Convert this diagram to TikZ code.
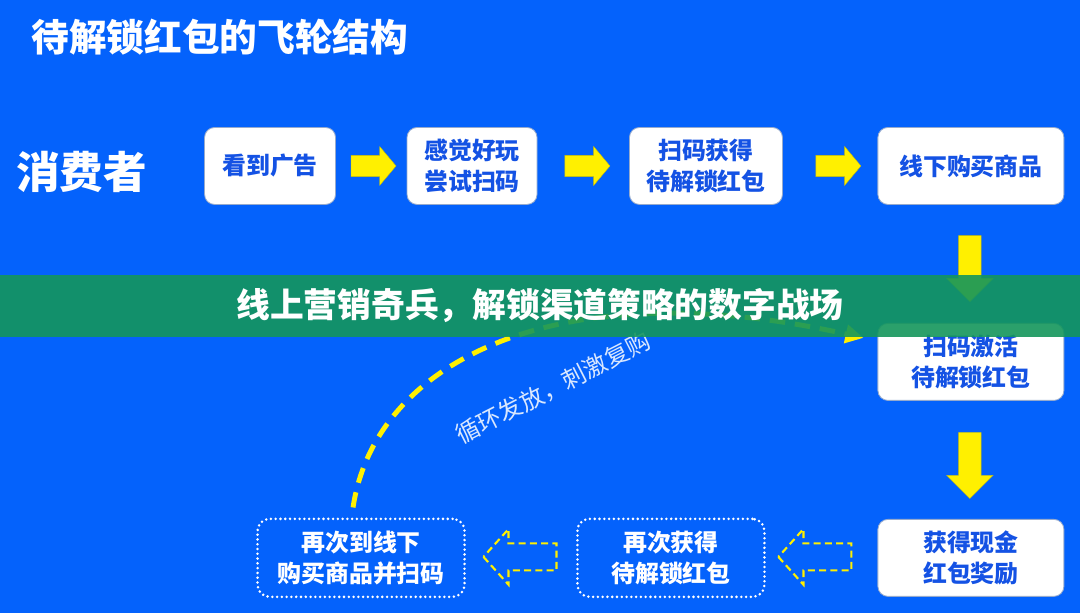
\documentclass[tikz,border=0pt]{standalone}
\usepackage{fontspec}
\setmainfont{Noto Sans CJK SC}
\usetikzlibrary{shapes,arrows.meta,positioning}
\definecolor{bgblue}{RGB}{4,98,252}
\definecolor{boxtext}{RGB}{20,82,228}
\definecolor{boxline}{RGB}{150,170,205}
\definecolor{flowyellow}{RGB}{255,240,0}
\definecolor{bannergreen}{RGB}{20,150,92}

\begin{document}
\begin{tikzpicture}[x=0.025cm, y=-0.025cm,
    box/.style={rectangle, draw=boxline, line width=0.6pt, fill=white, rounded corners=2.5mm, minimum height=19.25mm, align=center, text=boxtext, font=\bfseries\fontsize{17}{21.5}\selectfont},
    loopbox/.style={rectangle, draw=white, line width=2pt, dash pattern=on 0pt off 3.4pt, line cap=round, rounded corners=3mm, minimum height=19.5mm, align=center, text=white, font=\bfseries\fontsize{17}{21.5}\selectfont},
    rarrow/.style={single arrow, fill=flowyellow, draw=flowyellow!80!black, line width=0.3pt, inner sep=0pt, inner ysep=2.6mm, single arrow head extend=2.2mm, single arrow tip angle=100, minimum height=11.25mm},
    darrow/.style={single arrow, shape border rotate=270, fill=flowyellow, draw=flowyellow!80!black, line width=0.3pt, inner sep=0pt, inner xsep=2.75mm, single arrow head extend=3mm, minimum height=16.5mm},
    larrow/.style={single arrow, shape border rotate=180, draw=flowyellow, line width=1.5pt, dash pattern=on 5pt off 3pt, inner sep=0pt, inner ysep=3.1mm, single arrow head extend=3.6mm, single arrow tip angle=96, minimum height=18.25mm},
    looparrow/.style={draw=flowyellow, line width=3.5pt, dash pattern=on 11pt off 7pt, -{Triangle[length=4.5mm, width=4.5mm]}}
]

% Background
\fill[bgblue] (0,0) rectangle (1080,613);

% Headings
\node[anchor=west, inner sep=0pt, text=white, font=\bfseries\fontsize{26.8}{30}\selectfont] (title) at (31,37) {待解锁红包的飞轮结构};
\node[anchor=west, inner sep=0pt, text=white, font=\bfseries\fontsize{31}{34}\selectfont] (consumer) at (16,172) {消费者};

% Top Row
\node[box, minimum width=32.75mm] (seead) at (270,166) {看到广告};
\node[box, minimum width=32.5mm] (tryscan) at (472,166) {感觉好玩\\尝试扫码};
\node[box, minimum width=38.25mm] (getpack) at (706,166) {扫码获得\\待解锁红包};
\node[box, minimum width=46.5mm] (buyoffline) at (971,166) {线下购买商品};

% Right Column
\node[box, minimum width=46.5mm] (activate) at (971,362) {扫码激活\\待解锁红包};
\node[box, minimum width=46.5mm] (cashreward) at (971,558) {获得现金\\红包奖励};

% Loop Row
\node[loopbox, minimum width=46.75mm] (getagain) at (671,558) {再次获得\\待解锁红包};
\node[loopbox, minimum width=51.75mm] (buyagain) at (361,558) {再次到线下\\购买商品并扫码};

% Block Arrows
\node[rarrow] (arrow1) at (369,166) {};
\node[rarrow] (arrow2) at (583,166) {};
\node[rarrow] (arrow3) at (834,166) {};
\node[darrow] (arrow4) at (970,263) {};
\node[darrow] (arrow5) at (970,460) {};
\node[larrow] (arrow6) at (821,557) {};
\node[larrow] (arrow7) at (526,557) {};

% Loop Connection
\draw[looparrow] ([xshift=-2mm, yshift=2.5mm]buyagain.north) .. controls (375,360) and (560,270) .. ([xshift=-3.5mm, yshift=6mm]activate.west);
\node[rotate=27, text=white, text opacity=0.85, font=\fontsize{17}{19}\selectfont] (looplabel) at (553,388) {循环发放，刺激复购};

% Banner
\node[rectangle, fill=bannergreen, fill opacity=0.9, text opacity=1, minimum width=27cm, minimum height=15.5mm, inner sep=0pt, text=white, font=\bfseries\fontsize{24}{28}\selectfont] (banner) at (540,306) {线上营销奇兵，解锁渠道策略的数字战场};

\end{tikzpicture}
\end{document}
